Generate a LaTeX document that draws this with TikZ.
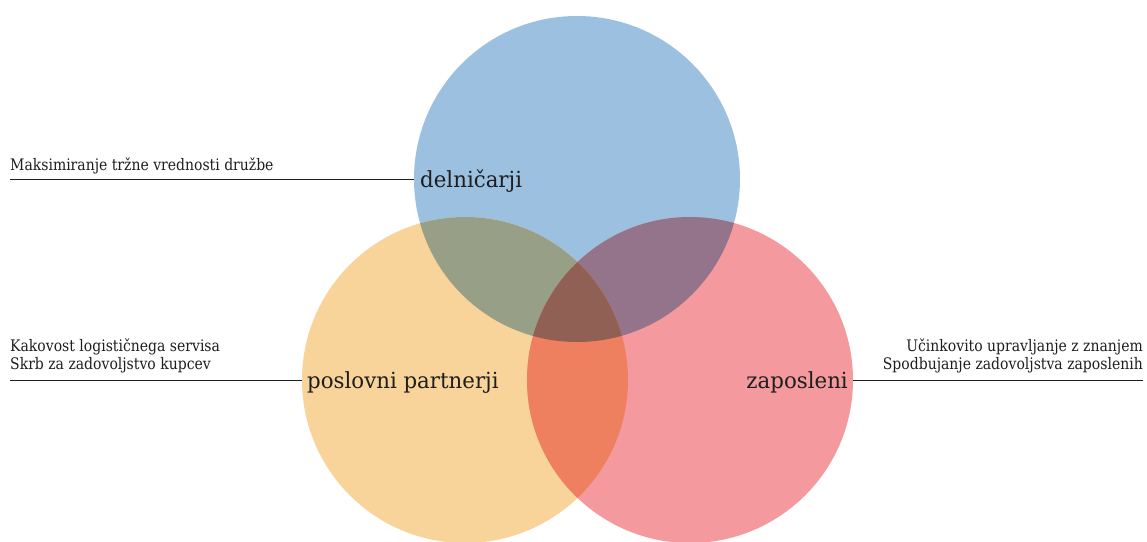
\documentclass[tikz,border=0pt]{standalone}
\usepackage{fontspec}
\setmainfont{DejaVu Serif}
\newfontfamily\narrowserif{DejaVu Serif}[FakeStretch=0.88]
\newfontfamily\labelserif{DejaVu Serif}[FakeStretch=0.96]
\definecolor{cB}{RGB}{155,192,224}
\definecolor{cO}{RGB}{249,212,154}
\definecolor{cP}{RGB}{244,154,158}
\definecolor{cBO}{RGB}{151,160,135}
\definecolor{cBP}{RGB}{148,116,139}
\definecolor{cOP}{RGB}{238,128,95}
\definecolor{cBOP}{RGB}{145,96,84}
\definecolor{ink}{RGB}{30,30,30}
\tikzset{
  disc/.style={circle, minimum size=326pt, inner sep=0pt, draw=none},
  small/.style={font=\narrowserif\fontsize{15.9}{18}\selectfont, text=ink, inner sep=0pt},
  big/.style={font=\labelserif\fontsize{22.2}{26}\selectfont, text=ink, inner sep=0pt},
  rule/.style={draw=ink, line width=0.9pt}
}
\begin{document}
\begin{tikzpicture}[x=1pt,y=-1pt]
\useasboundingbox (0,0) rectangle (1147,541);
\node[disc, fill=cB] (B) at (577,179) {};
\node[disc, fill=cO] (O) at (465,380) {};
\node[disc, fill=cP] (P) at (690,380) {};
\begin{scope}
  \clip (B.center) circle (163pt);
  \fill[cBO] (O.center) circle (163pt);
  \fill[cBP] (P.center) circle (163pt);
\end{scope}
\begin{scope}
  \clip (O.center) circle (163pt);
  \fill[cOP] (P.center) circle (163pt);
  \clip (P.center) circle (163pt);
  \fill[cBOP] (B.center) circle (163pt);
\end{scope}
% labels
\node[big, anchor=base west] (lB) at (420,187) {delničarji};
\node[big, anchor=base west] (lO) at (307,388) {poslovni partnerji};
\node[big, anchor=base east] (lP) at (848,388) {zaposleni};
% descriptions
\node[small, anchor=base west] (tB) at (10,170) {Maksimiranje tržne vrednosti družbe};
\node[small, anchor=base west] (tO1) at (10,351) {Kakovost logističnega servisa};
\node[small, anchor=base west] (tO2) at (10,369) {Skrb za zadovoljstvo kupcev};
\node[small, anchor=base east] (tP1) at (1143,351) {Učinkovito upravljanje z znanjem};
\node[small, anchor=base east] (tP2) at (1143,369) {Spodbujanje zadovoljstva zaposlenih};
% rules
\coordinate (sB) at (10,179);
\coordinate (sO) at (10,380);
\coordinate (sP) at (1143,380);
\draw[rule] (sB) -- (B.west);
\draw[rule] (sO) -- (O.west);
\draw[rule] (P.east) -- (sP);
\end{tikzpicture}
\end{document}
